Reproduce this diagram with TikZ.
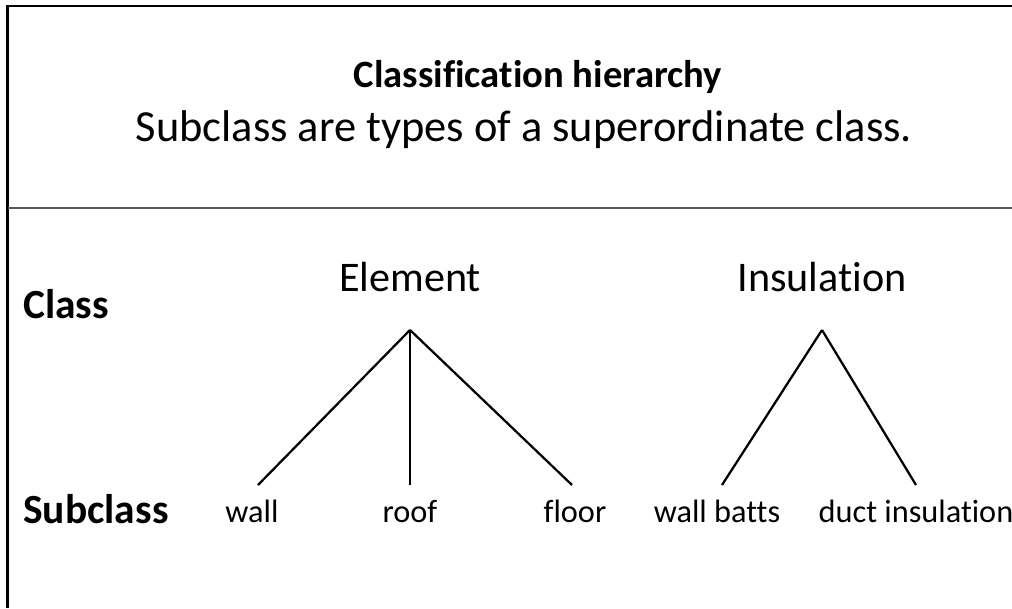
\documentclass[tikz,border=0pt]{standalone}
\usepackage{fontspec}
\setmainfont{Carlito}[Ligatures=CommonOff]
\usetikzlibrary{positioning}

\begin{document}
\begin{tikzpicture}[
  every node/.style={inner sep=0pt, anchor=base},
  title/.style={font=\fontsize{27.5}{32}\selectfont\bfseries},
  subtitle/.style={font=\fontsize{31.6}{36}\selectfont},
  rowlabel/.style={font=\fontsize{29.5}{34}\selectfont\bfseries, anchor=base west},
  classname/.style={font=\fontsize{30}{34}\selectfont},
  leaf/.style={font=\fontsize{23}{27}\selectfont},
  branch/.style={line width=1.6pt}
]
\useasboundingbox (0,0) rectangle (25.3,15.2);
% Frame and separator
\draw[line width=1.9pt] (0.19,0) -- (0.19,15.05) -- (25.3,15.05);
\draw[gray!70!black, line width=1pt] (0.19,10.0) -- (25.3,10.0);
% Heading
\node[title] (head) at (13.45,13.0) {Classification hierarchy};
\node[subtitle] (sub) at (13.1,11.65) {Subclass are types of a superordinate class.};
% Row labels
\node[rowlabel] (rowclass) at (0.575,7.225) {Class};
\node[rowlabel] (rowsub) at (0.575,2.125) {Subclass};
% Classes
\node[classname] (element) at (10.25,7.9) {Element};
\node[classname] (insulation) at (20.55,7.9) {Insulation};
\coordinate (elemtop) at (10.25,6.95);
\coordinate (instop) at (20.55,6.95);
% Subclasses
\node[leaf] (wall) at (6.3,2.15) {wall};
\node[leaf] (roof) at (10.25,2.15) {roof};
\node[leaf] (floor) at (14.375,2.15) {floor};
\node[leaf] (batts) at (17.925,2.15) {wall batts};
\node[leaf] (duct) at (22.9,2.15) {duct insulation};
\coordinate (wallend) at (6.45,3.075);
\coordinate (roofend) at (10.25,3.075);
\coordinate (floorend) at (14.3,3.075);
\coordinate (battsend) at (18.05,3.075);
\coordinate (ductend) at (22.9,3.075);
% Branches
\draw[branch] (elemtop) -- (wallend);
\draw[branch] (elemtop) -- (roofend);
\draw[branch] (elemtop) -- (floorend);
\draw[branch] (instop) -- (battsend);
\draw[branch] (instop) -- (ductend);
\end{tikzpicture}
\end{document}
